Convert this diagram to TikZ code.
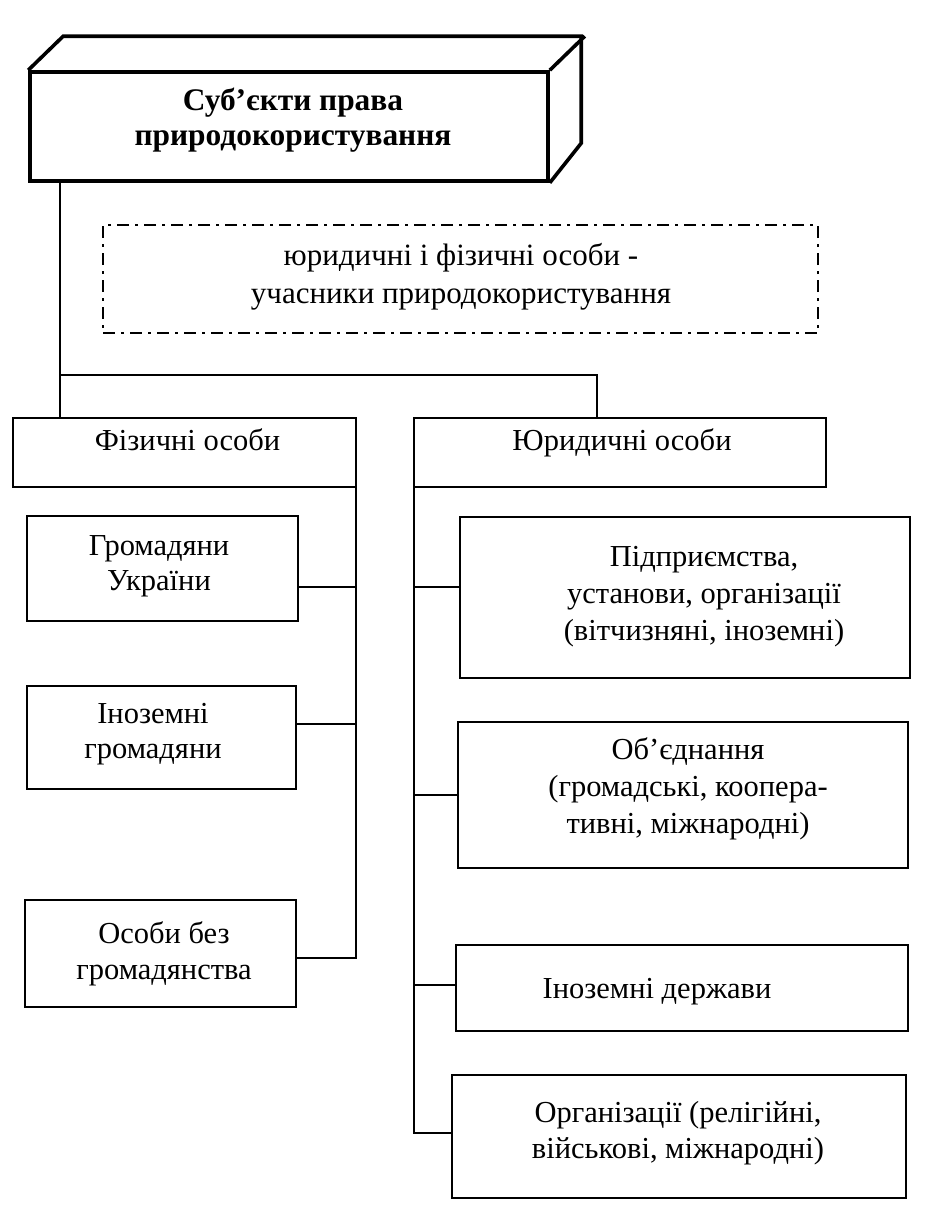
\documentclass[tikz,border=0pt]{standalone}
\usepackage{fontspec}
\setmainfont{Liberation Serif}
\newcommand\myfs[1]{\fontsize{30.5}{#1}\selectfont}
\begin{document}
\begin{tikzpicture}[x=1pt,y=-1pt,
  box/.style={draw, line width=1.8pt, inner sep=0pt},
  txt/.style={align=center, inner sep=0pt},
  wire/.style={line width=2.2pt},
  heavy/.style={line width=3.6pt, line join=miter}]
\useasboundingbox (0,0) rectangle (925,1226);
% top 3D box
\node[box, heavy, minimum width=518pt, minimum height=109pt] (top) at (289,126.5) {};
\draw[heavy] (top.north west) -- ++(35,-34) -- ++(518,0) -- ++(0,107) -- (top.south east);
\draw[heavy] (top.north east) -- ++(35,-34);
\node[txt, font=\fontsize{31.4}{35}\selectfont\bfseries] (toptxt) at (293,120.5)
  {\strut Суб’єкти права\\\strut природокористування};
% dash-dot box
\node[draw, line width=2.6pt, dash pattern=on 12pt off 6pt on 3pt off 6pt,
      minimum width=715pt, minimum height=108pt, inner sep=0pt] (dd) at (460.5,279) {};
\node[txt, font=\fontsize{31}{38}\selectfont] (ddtxt) at (461,276.4)
  {\strut юридичні і фізичні особи -\\\strut учасники природокористування};
% level 2
\node[box, minimum width=343pt, minimum height=69pt] (F) at (184.5,452.5) {};
\node[txt, font=\myfs{37}] (Ftxt) at (187.5,442.6) {\strut Фізичні особи};
\node[box, minimum width=412pt, minimum height=69pt] (J) at (620,452.5) {};
\node[txt, font=\myfs{37}] (Jtxt) at (622,442.6) {\strut Юридичні особи};
% left children
\node[box, minimum width=271pt, minimum height=105pt] (G1) at (162.5,568.5) {};
\node[txt, font=\myfs{35}] (G1t) at (159,565.5) {\strut Громадяни\\\strut України};
\node[box, minimum width=269pt, minimum height=103pt] (G2) at (161.5,737.5) {};
\node[txt, font=\myfs{35}] (G2t) at (153,733.5) {\strut Іноземні\\\strut громадяни};
\node[box, minimum width=271pt, minimum height=107pt] (G3) at (160.5,953.5) {};
\node[txt, font=\myfs{36}] (G3t) at (164,953.8) {\strut Особи без\\\strut громадянства};
% right children
\node[box, minimum width=450pt, minimum height=161pt] (R1) at (685,597.5) {};
\node[txt, font=\myfs{37}] (R1t) at (704,595.6)
  {\strut Підприємства,\\\strut установи, організації\\\strut (вітчизняні, іноземні)};
\node[box, minimum width=450pt, minimum height=146pt] (R2) at (683,795) {};
\node[txt, font=\myfs{37}] (R2t) at (688,789.1)
  {\strut Об’єднання\\\strut (громадські, коопера-\\\strut тивні, міжнародні)};
\node[box, minimum width=452pt, minimum height=86pt] (R3) at (682,988) {};
\node[txt, font=\myfs{37}] (R3t) at (657,990.6) {\strut Іноземні держави};
\node[box, minimum width=454pt, minimum height=123pt] (R4) at (679,1136.5) {};
\node[txt, font=\myfs{36}] (R4t) at (678,1132.8)
  {\strut Організації (релігійні,\\\strut військові, міжнародні)};
% junction coordinates
\coordinate (jn) at (60,375);
\coordinate (jr) at (597,375);
\coordinate (l1) at (356,587);
\coordinate (l2) at (356,724);
\coordinate (l3) at (356,958);
\coordinate (r1) at (414,587);
\coordinate (r2) at (414,795);
\coordinate (r3) at (414,985);
\coordinate (r4) at (414,1133);
% connectors
\draw[wire] (top.south -| jn) -- (jn) -- (jr) -- (J.north -| jr);
\draw[wire] (jn) -- (F.north -| jn);
\draw[wire] (F.south -| l1) -- (l3) -- (l3 -| G3.east);
\draw[wire] (l1) -- (l1 -| G1.east);
\draw[wire] (l2) -- (l2 -| G2.east);
\draw[wire] (J.south -| r1) -- (r4) -- (r4 -| R4.west);
\draw[wire] (r1) -- (r1 -| R1.west);
\draw[wire] (r2) -- (r2 -| R2.west);
\draw[wire] (r3) -- (r3 -| R3.west);
\end{tikzpicture}
\end{document}
